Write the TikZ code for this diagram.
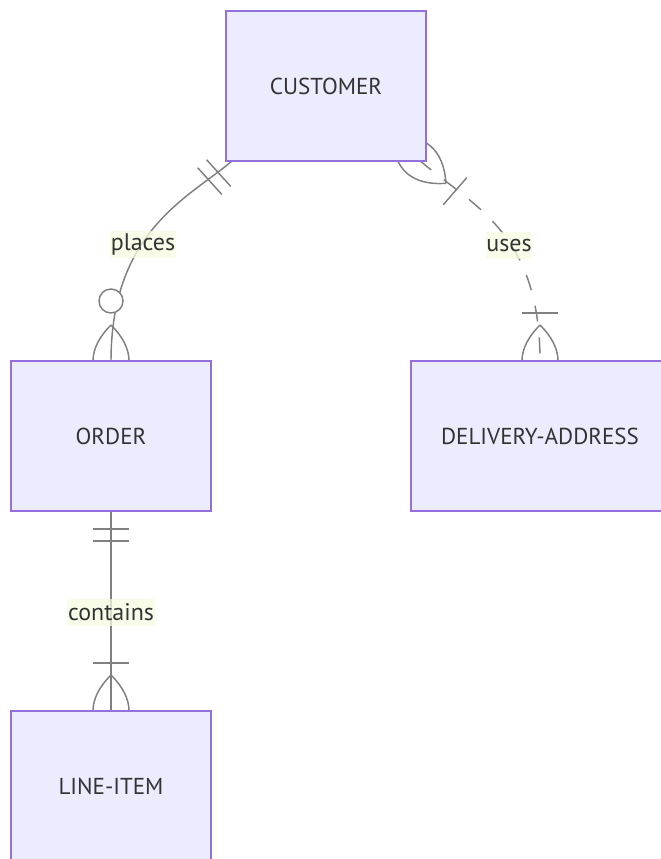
\documentclass[tikz,border=0pt]{standalone}
\usepackage{fontspec}
\setmainfont{PT Sans}
\usetikzlibrary{calc}
\pgfdeclarelayer{edges}
\pgfsetlayers{edges,main}
\definecolor{entityfill}{HTML}{ECECFF}
\definecolor{entityline}{HTML}{9370DB}
\definecolor{relline}{HTML}{808080}
\definecolor{labelfill}{HTML}{F6FCE2}
\definecolor{textcol}{HTML}{333333}
\tikzset{
  entity/.style={draw=entityline, fill=entityfill, line width=1.2pt,
    minimum width=150pt, minimum height=112.5pt, outer sep=0pt, inner sep=0pt,
    text=textcol, font=\fontsize{17.3}{20}\selectfont},
  relation/.style={draw=relline, line width=1.1pt},
  nonident/.style={relation, dash pattern=on 12pt off 12pt},
  rellabel/.style={fill=labelfill, fill opacity=0.75, text opacity=1, text=textcol,
    inner xsep=0.5pt, inner ysep=0pt, minimum height=20.25pt,
    font=\fontsize{18}{20}\selectfont},
  % cardinality marks, drawn in a frame whose first axis points away from the entity
  pics/onlyone/.style={code={
    \draw[relation] (18,-18) -- (18,18) (30,-18) -- (30,18);}},
  pics/onemany/.style={code={
    \draw[relation] (36,0) .. controls (12,24) and (-12,24) .. (-36,0)
                    (36,0) .. controls (12,-24) and (-12,-24) .. (-36,0);
    \draw[relation] (48,-18) -- (48,18);}},
  pics/zeromany/.style={code={
    \draw[relation] (36,0) .. controls (12,24) and (-12,24) .. (-36,0)
                    (36,0) .. controls (12,-24) and (-12,-24) .. (-36,0);
    \draw[relation, fill=white] (60,0) circle[radius=12];}},
}
\begin{document}
\begin{tikzpicture}[x=0.75pt, y=-0.75pt]
\useasboundingbox (0,0) rectangle (660,859);

% entities
\node[entity] (customer) at (326,86) {CUSTOMER};
\node[entity] (order) at (111,436) {ORDER};
\node[entity, minimum width=193.5pt] (delivery) at (540,436) {DELIVERY-ADDRESS};
\node[entity] (lineitem) at (111,786) {LINE-ITEM};

\coordinate (placesStart) at ($(customer.south west)+(6,0)$);
\coordinate (usesStart) at ($(customer.south east)+(-7.2,-1.3)$);

% relationships, kept behind the entity boxes
\begin{pgfonlayer}{edges}
  \draw[relation] (placesStart) .. controls (190,197) and ($(order.north)+(0,-131)$) .. (order.north);
  \draw[nonident] (usesStart) .. controls (471.7,205.6) and ($(delivery.north)+(0,-130)$) .. (delivery.north);
  \draw[relation] (order.south) -- (lineitem.north);

  \pic[rotate=-137.9] at (placesStart) {onlyone};
  \pic[rotate=90] at (order.north) {zeromany};
  \pic[rotate=-41] at (usesStart) {onemany};
  \pic[rotate=90] at (delivery.north) {onemany};
  \pic[rotate=-90] at (order.south) {onlyone};
  \pic[rotate=90] at (lineitem.north) {onemany};
\end{pgfonlayer}

% relationship labels
\node[rellabel] (placesLabel) at (143,244.5) {places};
\node[rellabel] (usesLabel) at (509,245) {uses};
\node[rellabel] (containsLabel) at (111,612) {contains};
\end{tikzpicture}
\end{document}
